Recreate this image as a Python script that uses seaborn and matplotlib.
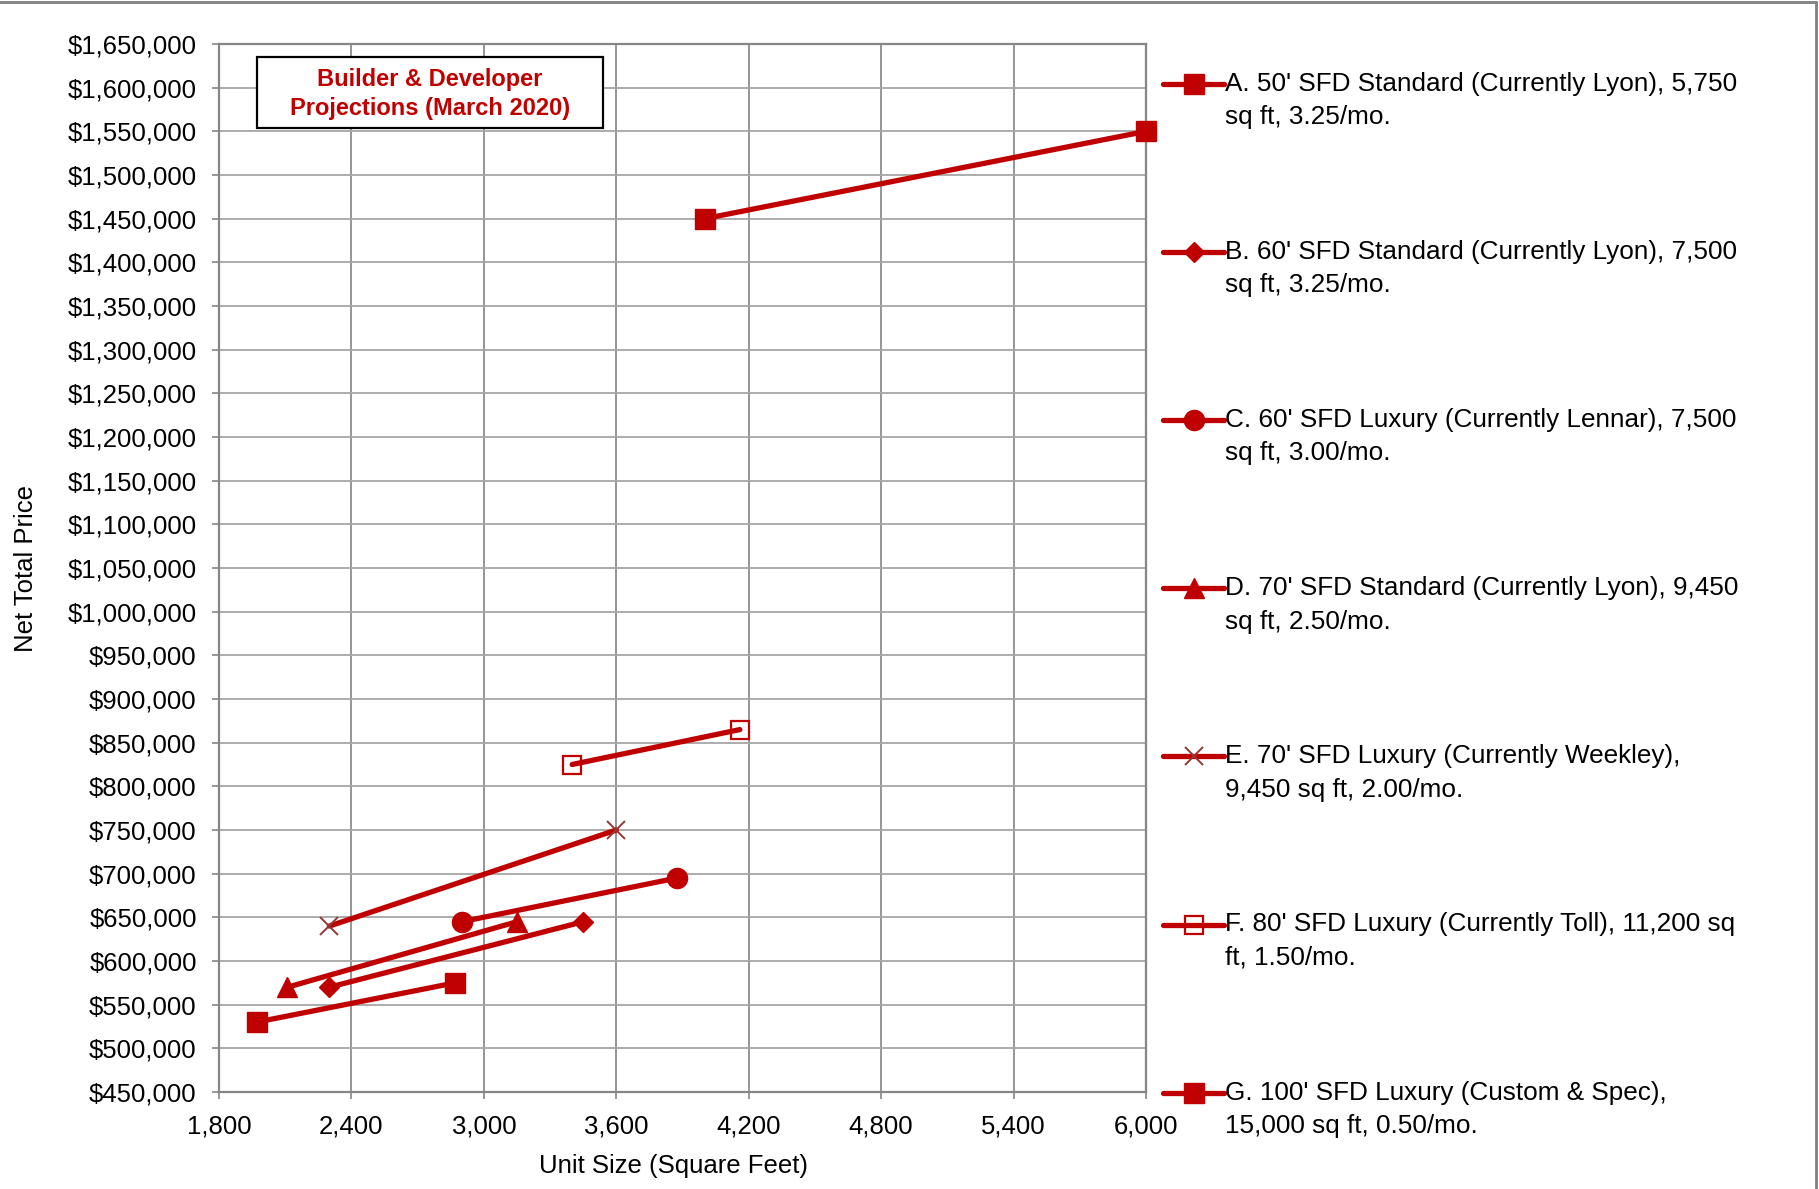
import numpy as np
import pandas as pd
import matplotlib
matplotlib.use("Agg")
import matplotlib.pyplot as plt
from matplotlib.lines import Line2D
from matplotlib.patches import Rectangle
from matplotlib.ticker import FuncFormatter, MultipleLocator
import seaborn as sns

# ---- data -------------------------------------------------------------
series_codes = ["A", "B", "C", "D", "E", "F", "G"]
series_labels = [
    "A. 50' SFD Standard (Currently Lyon), 5,750\nsq ft, 3.25/mo.",
    "B. 60' SFD Standard (Currently Lyon), 7,500\nsq ft, 3.25/mo.",
    "C. 60' SFD Luxury (Currently Lennar), 7,500\nsq ft, 3.00/mo.",
    "D. 70' SFD Standard (Currently Lyon), 9,450\nsq ft, 2.50/mo.",
    "E. 70' SFD Luxury (Currently Weekley),\n9,450 sq ft, 2.00/mo.",
    "F. 80' SFD Luxury (Currently Toll), 11,200 sq\nft, 1.50/mo.",
    "G. 100' SFD Luxury (Custom & Spec),\n15,000 sq ft, 0.50/mo.",
]
size_low = [1970, 2300, 2900, 2110, 2300, 3400, 4000]
size_high = [2870, 3450, 3875, 3150, 3600, 4160, 6000]
price_low = [530000, 570000, 645000, 570000, 640000, 825000, 1450000]
price_high = [575000, 645000, 695000, 645000, 750000, 865000, 1550000]

x_ticks = [1800, 2400, 3000, 3600, 4200, 4800, 5400, 6000]
y_min, y_max, y_step = 450000, 1650000, 50000

box_title = "Builder & Developer\nProjections (March 2020)"
x_title = "Unit Size (Square Feet)"
y_title = "Net Total Price"

# ---- styles -----------------------------------------------------------
RED = "#C00000"
BROWN = "#953735"
GRID = "#8C8C8C"
styles = {
    "A": dict(marker="s", markersize=14, markerfacecolor=RED, markeredgecolor=RED, markeredgewidth=1),
    "B": dict(marker="D", markersize=10.5, markerfacecolor=RED, markeredgecolor=RED, markeredgewidth=1),
    "C": dict(marker="o", markersize=14.5, markerfacecolor=RED, markeredgecolor=RED, markeredgewidth=1),
    "D": dict(marker="^", markersize=14.5, markerfacecolor=RED, markeredgecolor=RED, markeredgewidth=1),
    "E": dict(marker="x", markersize=13.5, markerfacecolor=BROWN, markeredgecolor=BROWN, markeredgewidth=1.4),
    "F": dict(marker="s", markersize=13, markerfacecolor="none", markeredgecolor=RED, markeredgewidth=1.6),
    "G": dict(marker="s", markersize=14, markerfacecolor=RED, markeredgecolor=RED, markeredgewidth=1),
}
LINE_W = 3.8

rows = []
for code, x0, x1, p0, p1 in zip(series_codes, size_low, size_high, price_low, price_high):
    rows.append({"series": code, "size": x0, "price": p0})
    rows.append({"series": code, "size": x1, "price": p1})
df = pd.DataFrame(rows)

sns.set_theme(style="white")
plt.rcParams["font.family"] = ["Liberation Sans", "DejaVu Sans"]
FS = 18.5

W, H = 1819, 1189
fig = plt.figure(figsize=(W / 100, H / 100), dpi=100)
ax = fig.add_axes([219 / W, 1 - 1092 / H, (1146 - 219) / W, (1092 - 44) / H])

for code in series_codes:
    sub = df[df["series"] == code]
    sns.lineplot(data=sub, x="size", y="price", ax=ax, color=RED, linewidth=LINE_W,
                 sort=False, legend=False, errorbar=None, clip_on=False, zorder=5,
                 **styles[code])

ax.set_xlim(x_ticks[0], x_ticks[-1])
ax.set_ylim(y_min, y_max)
ax.set_xticks(x_ticks)
ax.yaxis.set_major_locator(MultipleLocator(y_step))
ax.xaxis.set_major_formatter(FuncFormatter(lambda v, _: f"{v:,.0f}"))
ax.yaxis.set_major_formatter(FuncFormatter(lambda v, _: f"${v:,.0f}"))

ax.grid(True, axis="x", color=GRID, linewidth=1.3)
ax.grid(True, axis="y", color="#A6A6A6", linewidth=1.3)
ax.set_axisbelow(True)
for sp in ax.spines.values():
    sp.set_visible(True)
    sp.set_color("#868686")
    sp.set_linewidth(1.6)

ax.tick_params(axis="both", which="major", bottom=True, left=True, direction="out",
               length=5, width=1.2, color="#868686", labelsize=FS, labelcolor="black", pad=11)

ax.set_xlabel(x_title, fontsize=FS, color="black")
ax.set_ylabel(y_title, fontsize=FS, color="black")
ax.xaxis.set_label_coords((673 - 219) / (1146 - 219), (1092 - 1166.5) / (1092 - 44))
ax.xaxis.label.set_va("center")
ax.yaxis.set_label_coords((26 - 219) / (1146 - 219), 0.5)
ax.yaxis.label.set_va("center")

# boxed note in the upper-left of the plot area
fig.add_artist(Rectangle((257 / W, 1 - 128 / H), 346 / W, 71 / H, transform=fig.transFigure,
                         facecolor="white", edgecolor="black", linewidth=1.6, zorder=6))
fig.text(430 / W, 1 - 94 / H, box_title, ha="center", va="center", fontsize=17,
         fontweight="bold", color=RED, linespacing=1.35, zorder=7)

# legend column on the right
leg_x0, leg_x1, text_x = 1163, 1224, 1225
leg_top, leg_step = 83.5, 168.2
for i, (code, label) in enumerate(zip(series_codes, series_labels)):
    yc = leg_top + i * leg_step
    yf = 1 - yc / H
    fig.add_artist(Line2D([leg_x0 / W, leg_x1 / W], [yf, yf], transform=fig.transFigure,
                          color=RED, linewidth=LINE_W, solid_capstyle="round"))
    fig.add_artist(Line2D([(leg_x0 + leg_x1) / 2 / W], [yf], transform=fig.transFigure,
                          linestyle="none", **styles[code]))
    fig.text(text_x / W, 1 - (yc - 12) / H, label, ha="left", va="top", fontsize=18.8,
             color="black", linespacing=1.5)

# frame lines along the top and right edges of the figure
fig.add_artist(Line2D([0, 1815.5 / W], [1 - 1.5 / H, 1 - 1.5 / H], transform=fig.transFigure,
                      color="#808080", linewidth=2))
fig.add_artist(Line2D([1815.5 / W, 1815.5 / W], [0, 1 - 1.5 / H], transform=fig.transFigure,
                      color="#808080", linewidth=2))

fig.savefig("out.png", dpi=100, facecolor="white")
